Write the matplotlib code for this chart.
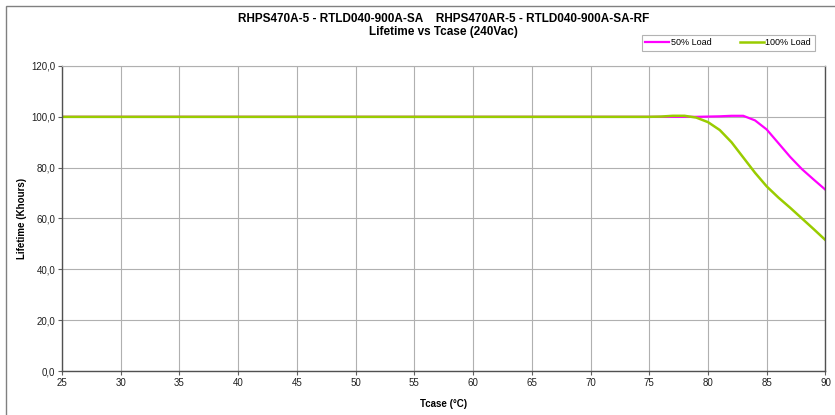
import numpy as np
import matplotlib.pyplot as plt
from matplotlib.patches import Rectangle

plt.rcParams['font.family'] = ['Liberation Sans', 'DejaVu Sans']

# Tcase (°C) / lifetime (Khours)
tcase = [25, 30, 35, 40, 45, 50, 55, 60, 65, 70, 75, 76, 77, 78, 79, 80,
         81, 82, 83, 84, 85, 86, 87, 88, 89, 90]
load50 = [100.0, 100.0, 100.0, 100.0, 100.0, 100.0, 100.0, 100.0, 100.0, 100.0,
          100.0, 100.0, 100.0, 100.0, 100.0, 100.1, 100.2, 100.4, 100.4, 98.6,
          95.0, 89.6, 84.2, 79.4, 75.3, 71.3]
load100 = [100.0, 100.0, 100.0, 100.0, 100.0, 100.0, 100.0, 100.0, 100.0, 100.0,
           100.0, 100.1, 100.4, 100.4, 99.7, 97.9, 94.8, 90.0, 84.0, 78.0,
           72.6, 68.2, 64.2, 60.0, 55.8, 51.5]
xticks = [25, 30, 35, 40, 45, 50, 55, 60, 65, 70, 75, 80, 85, 90]
yticks = [0, 20, 40, 60, 80, 100, 120]

fig = plt.figure(figsize=(8.35, 4.15), dpi=100)
ax = fig.add_axes([0.0743, 0.106, 0.9143, 0.735])

# chart border
fig.patches.append(Rectangle((0.007, -0.02), 1.0, 1.005, transform=fig.transFigure,
                             fill=False, edgecolor='#808080', linewidth=1.0))

ax.plot(tcase, load50, color='#FF00FF', lw=1.6, label='50% Load')
ax.plot(tcase, load100, color='#99CC00', lw=1.8, label='100% Load')

ax.set_xlim(25, 90)
ax.set_ylim(0, 120)
ax.set_xticks(xticks)
ax.set_yticks(yticks)
ax.set_yticklabels([('%.1f' % v).replace('.', ',') for v in yticks])
ax.tick_params(labelsize=7, length=3, color='#606060', labelcolor='#202020', pad=2)
ax.grid(True, color='#b0b0b0', linewidth=0.8)
ax.set_axisbelow(True)
for s in ['left', 'bottom', 'right']:
    ax.spines[s].set_color('#505050')
    ax.spines[s].set_linewidth(1.0)
ax.spines['top'].set_color('#b0b0b0')

ax.set_xlabel('Tcase (°C)', fontsize=7, fontweight='bold', labelpad=8)
ax.set_ylabel('Lifetime (Khours)', fontsize=7, fontweight='bold', labelpad=3)

fig.text(0.531, 0.955, 'RHPS470A-5 - RTLD040-900A-SA    RHPS470AR-5 - RTLD040-900A-SA-RF',
         ha='center', va='center', fontsize=8.5, fontweight='bold')
fig.text(0.531, 0.922, 'Lifetime vs Tcase (240Vac)', ha='center', va='center',
         fontsize=8.5, fontweight='bold')

leg = ax.legend(loc='lower right', bbox_to_anchor=(0.992, 1.035), ncol=2, fontsize=6.5,
                frameon=True, fancybox=False, edgecolor='#a0a0a0', handlelength=2.6,
                handletextpad=0.2, columnspacing=3.2, borderpad=0.4)
leg.get_frame().set_linewidth(0.8)

fig.savefig('out.png', dpi=100)
